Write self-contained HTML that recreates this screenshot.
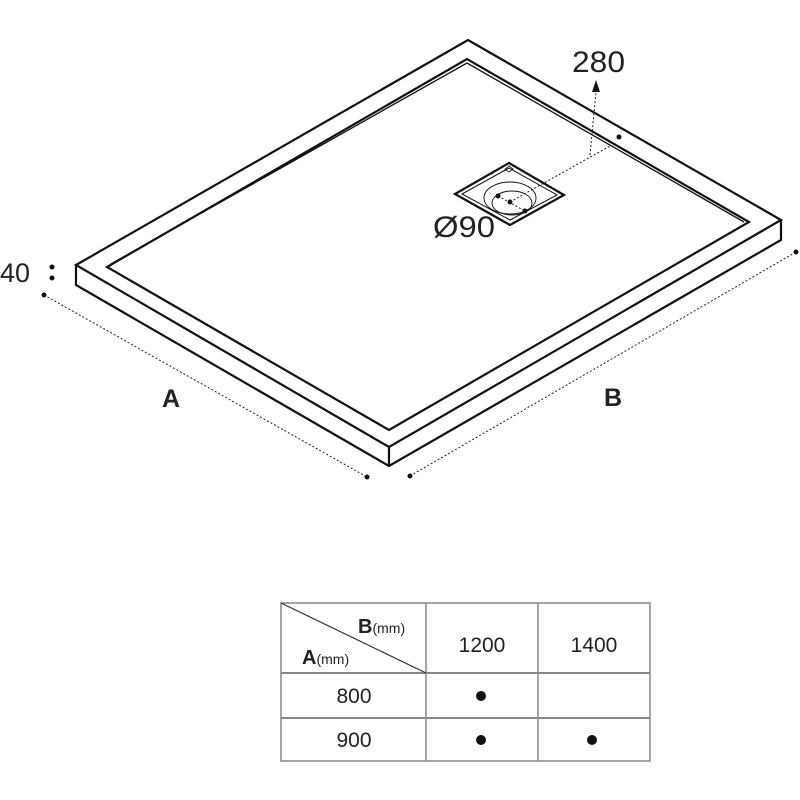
<!DOCTYPE html>
<html><head><meta charset="utf-8"><style>
html,body{margin:0;padding:0;background:#fff;}
svg{display:block;}
text{font-family:"Liberation Sans",sans-serif;fill:#222;}
</style></head><body>
<svg width="800" height="800" viewBox="0 0 800 800" xmlns="http://www.w3.org/2000/svg">
<g fill="none" stroke="#111" stroke-width="2.2" stroke-linejoin="miter">
  <polygon points="76,265 468,40 781,220 389,447" fill="#fff"/>
  <polyline points="76,265 76,285 389,466 781,240 781,220"/>
  <line x1="389" y1="447" x2="389" y2="466"/>
  <polygon points="107,267 467,59 749,222 389,430"/>
  <polyline points="111,264 467,63 744,222" stroke-width="1.3"/>
</g>
<g fill="none" stroke="#111">
  <polygon points="455,194 509,163 564,195 510,225" stroke-width="2.2"/>
  <polygon points="462,194 509,168 557,195 510,220" stroke-width="1"/>
  <ellipse cx="510" cy="198" rx="26" ry="16" stroke-width="0.9"/>
  <ellipse cx="512" cy="203" rx="20" ry="12" stroke-width="0.9"/>
  <polygon points="509,166 513,169 509,172 505,169" stroke-width="0.8"/>
</g>
<g fill="#111">
  <circle cx="498" cy="196" r="2.5"/>
  <circle cx="510" cy="202" r="2.5"/>
  <circle cx="525" cy="211" r="2.5"/>
  <circle cx="619" cy="137" r="2.5"/>
</g>
<g stroke="#222" stroke-width="1" stroke-dasharray="2,2" fill="none">
  <line x1="498" y1="196" x2="525" y2="211"/>
  <line x1="510" y1="202" x2="610" y2="146"/>
  <line x1="590" y1="155" x2="596" y2="92"/>
  <line x1="44" y1="295" x2="367" y2="477"/>
  <line x1="410" y1="476" x2="796" y2="252"/>
</g>
<polygon points="596,80 592,92 600,92" fill="#111"/>
<g fill="#111">
  <circle cx="52" cy="267" r="2.5"/><circle cx="52" cy="278" r="2.5"/>
  <circle cx="44" cy="295" r="2.5"/><circle cx="367" cy="477" r="2.5"/>
  <circle cx="410" cy="476" r="2.5"/><circle cx="796" cy="252" r="2.5"/>
</g>
<text x="572" y="72" font-size="30" textLength="53" lengthAdjust="spacingAndGlyphs">280</text>
<text x="433" y="237" font-size="30" textLength="62" lengthAdjust="spacingAndGlyphs">Ø90</text>
<text x="0" y="282" font-size="27">40</text>
<text x="162" y="407" font-size="25" font-weight="bold">A</text>
<text x="604" y="406" font-size="25" font-weight="bold">B</text>
<g stroke="#888" stroke-width="1.5" fill="none">
  <rect x="281" y="603" width="369" height="158"/>
  <line x1="426" y1="603" x2="426" y2="761"/>
  <line x1="538" y1="603" x2="538" y2="761"/>
  <line x1="281" y1="673" x2="650" y2="673" stroke-width="2"/>
  <line x1="281" y1="718" x2="650" y2="718" stroke-width="2"/>
  <line x1="281" y1="603" x2="426" y2="673" stroke="#333" stroke-width="1.2"/>
</g>
<text x="358" y="633" font-size="20" font-weight="bold">B<tspan font-size="14" font-weight="normal">(mm)</tspan></text>
<text x="302" y="664" font-size="20" font-weight="bold">A<tspan font-size="14" font-weight="normal">(mm)</tspan></text>
<text x="482" y="652" font-size="21" text-anchor="middle">1200</text>
<text x="594" y="652" font-size="21" text-anchor="middle">1400</text>
<text x="354" y="703" font-size="21" text-anchor="middle">800</text>
<text x="354" y="747" font-size="21" text-anchor="middle">900</text>
<g fill="#111">
  <circle cx="481" cy="696" r="5"/>
  <circle cx="481" cy="740" r="5"/>
  <circle cx="592" cy="740" r="5"/>
</g>
</svg>
</body></html>
